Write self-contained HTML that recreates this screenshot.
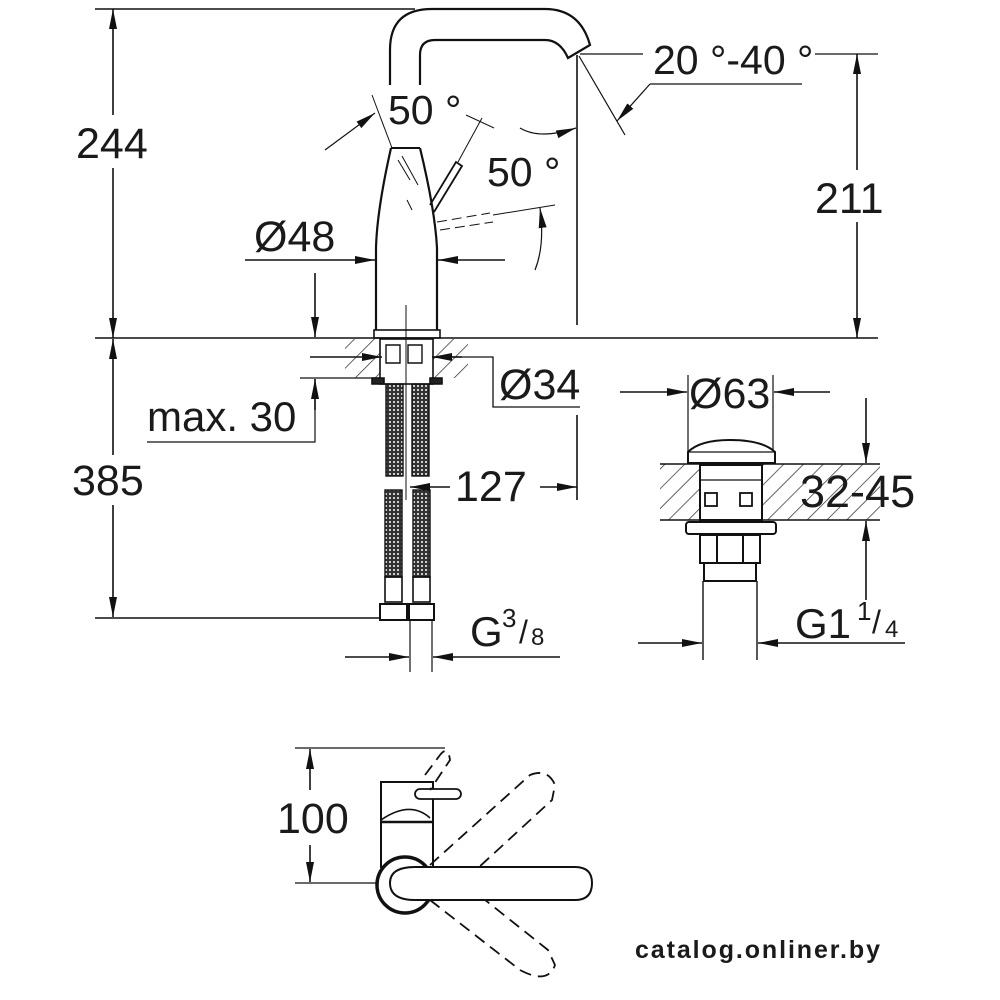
<!DOCTYPE html>
<html><head><meta charset="utf-8"><style>
html,body{margin:0;padding:0;background:#fff}
svg{display:block}
text{font-family:"Liberation Sans",sans-serif;fill:#1a1a1a}
</style></head><body>
<svg width="1000" height="1000" viewBox="0 0 1000 1000" xmlns="http://www.w3.org/2000/svg">
<defs>
<marker id="a" viewBox="0 0 20 8" refX="20" refY="4" markerWidth="20" markerHeight="8" markerUnits="userSpaceOnUse" orient="auto"><path d="M0,0 L20,4 L0,8 z" fill="#111"/></marker>
<pattern id="h" width="14" height="14" patternUnits="userSpaceOnUse" patternTransform="rotate(45)"><line x1="0" y1="0" x2="0" y2="14" stroke="#333" stroke-width="1.5"/></pattern>
<pattern id="br" width="4" height="4" patternUnits="userSpaceOnUse"><rect width="4" height="4" fill="#333"/><circle cx="2" cy="2" r="1" fill="#fff"/></pattern>
</defs>
<g stroke="#111" stroke-width="1.6" fill="none">
<line x1="95" y1="9" x2="415" y2="9"/>
<line x1="95" y1="338" x2="878" y2="338"/>
<line x1="113" y1="115" x2="113" y2="9" marker-end="url(#a)"/>
<line x1="113" y1="168" x2="113" y2="338" marker-end="url(#a)"/>
<path d="M390,85 L390,50 Q390,9 432,9 L545,9 Q580,9 590,45 L568,58 Q560,40 545,40 L435,40 Q420,40 420,55 L420,85" stroke-width="2.2"/>
<path d="M391,148 L420,148" stroke-width="2"/>
<path d="M391,148 Q377,210 376,248 L376,330" stroke-width="2.2"/>
<path d="M420,148 Q435,210 437,248 L437,330" stroke-width="2.2"/>
<rect x="374" y="330" width="66" height="8" stroke-width="1.6"/>
<line x1="406" y1="305" x2="406" y2="338" stroke-width="1"/>
<path d="M430,205 L456,162 L462,166 L434,212" stroke-width="1.8"/>
<line x1="458" y1="162" x2="482" y2="118" stroke-width="1"/>
<line x1="466" y1="115" x2="494" y2="128" stroke-width="1"/>
<path d="M437,222 L490,213 M440,230 L493,222" stroke-dasharray="10,5" stroke-width="1"/>
<line x1="493" y1="215" x2="555" y2="205" stroke-width="1"/>
<path d="M398,160 L410,180 M402,156 L418,185 M407,200 L412,210" stroke-width="1"/>
<line x1="372" y1="95" x2="392" y2="148" stroke-width="1"/>
<path d="M325,150 L375,113" marker-end="url(#a)" stroke-width="1.2"/>
<path d="M520,128 Q540,140 576,128" marker-end="url(#a)" stroke-width="1.2"/>
<path d="M535,270 Q545,245 540,208" marker-end="url(#a)" stroke-width="1.2"/>
<line x1="577" y1="55" x2="577" y2="325"/>
<line x1="580" y1="54" x2="643" y2="54" stroke-width="1.3"/>
<line x1="815" y1="54" x2="878" y2="54" stroke-width="1.3"/>
<line x1="579" y1="56" x2="625" y2="135" stroke-width="1.2"/>
<line x1="650" y1="84" x2="802" y2="84" stroke-width="1.3"/>
<path d="M650,84 L617,121" marker-end="url(#a)" stroke-width="1.2"/>
<line x1="857" y1="170" x2="857" y2="54" marker-end="url(#a)"/>
<line x1="857" y1="222" x2="857" y2="338" marker-end="url(#a)"/>
<line x1="245" y1="260" x2="375" y2="260" marker-end="url(#a)"/>
<line x1="505" y1="260" x2="438" y2="260" marker-end="url(#a)"/>
<line x1="315" y1="273" x2="315" y2="337" marker-end="url(#a)"/>
<line x1="300" y1="378" x2="380" y2="378" stroke-width="1.2"/>
<polyline points="147,442 315,442 315,379" stroke-width="1.2"/>
<line x1="315" y1="410" x2="315" y2="379" marker-end="url(#a)"/>
<rect x="345" y="339" width="38" height="39" fill="url(#h)" stroke="none"/>
<rect x="430" y="339" width="38" height="39" fill="url(#h)" stroke="none"/>
<rect x="380" y="339" width="53" height="45" fill="#fff" stroke-width="1.6"/>
<path d="M386,345 h14 v18 h-14z M408,345 h14 v18 h-14z" stroke-width="1.4"/>
<path d="M372,378 h12 v6 h-12z M430,378 h12 v6 h-12z" fill="#222"/>
<line x1="406" y1="338" x2="406" y2="500" stroke-width="1"/>
<line x1="310" y1="357" x2="382" y2="357" marker-end="url(#a)"/>
<polyline points="432,357 493,357 493,407 580,407" stroke-width="1.3"/>
<line x1="462" y1="357" x2="432" y2="357" marker-end="url(#a)"/>
<rect x="386" y="384" width="17" height="92" fill="url(#br)" stroke-width="1.4"/>
<rect x="412" y="384" width="17" height="92" fill="url(#br)" stroke-width="1.4"/>
<rect x="385" y="490" width="17" height="87" fill="url(#br)" stroke-width="1.4"/>
<rect x="413" y="490" width="17" height="87" fill="url(#br)" stroke-width="1.4"/>
<rect x="385" y="577" width="17" height="25" stroke-width="1.6"/>
<rect x="413" y="577" width="17" height="25" stroke-width="1.6"/>
<rect x="380" y="604" width="27" height="16" stroke-width="2"/>
<rect x="409" y="604" width="25" height="16" stroke-width="2"/>
<line x1="450" y1="487" x2="410" y2="487" marker-end="url(#a)"/>
<line x1="540" y1="487" x2="577" y2="487" marker-end="url(#a)"/>
<line x1="577" y1="415" x2="577" y2="500"/>
<line x1="113" y1="455" x2="113" y2="339" marker-end="url(#a)"/>
<line x1="113" y1="505" x2="113" y2="617" marker-end="url(#a)"/>
<line x1="95" y1="618" x2="380" y2="618"/>
<line x1="410" y1="620" x2="410" y2="672" stroke-width="1.2"/>
<line x1="432" y1="620" x2="432" y2="672" stroke-width="1.2"/>
<line x1="345" y1="657" x2="409" y2="657" marker-end="url(#a)"/>
<line x1="560" y1="657" x2="433" y2="657" marker-end="url(#a)"/>
<line x1="688" y1="375" x2="688" y2="455" stroke-width="1.2"/>
<line x1="773" y1="375" x2="773" y2="455" stroke-width="1.2"/>
<line x1="620" y1="392" x2="687" y2="392" marker-end="url(#a)"/>
<line x1="830" y1="392" x2="774" y2="392" marker-end="url(#a)"/>
<rect x="660" y="464" width="220" height="56" fill="url(#h)" stroke="none"/>
<line x1="660" y1="464" x2="880" y2="464"/>
<line x1="660" y1="520" x2="880" y2="520"/>
<path d="M688,463 L688,452 Q700,440 730,440 Q762,440 775,452 L775,463 Z" fill="#fff" stroke-width="2"/>
<line x1="689" y1="452" x2="774" y2="452" stroke-width="1.2"/>
<rect x="700" y="465" width="62" height="55" fill="#fff" stroke-width="2"/>
<rect x="705" y="493" width="12" height="13" stroke-width="1.8"/>
<rect x="740" y="493" width="12" height="13" stroke-width="1.8"/>
<line x1="700" y1="480" x2="762" y2="480" stroke-width="1.2"/>
<rect x="686" y="522" width="90" height="12" rx="3" fill="#fff" stroke-width="2"/>
<rect x="700" y="535" width="60" height="28" stroke-width="2"/>
<line x1="717" y1="535" x2="717" y2="563" stroke-width="2"/>
<line x1="743" y1="535" x2="743" y2="563" stroke-width="2"/>
<rect x="704" y="563" width="52" height="18" stroke-width="2"/>
<line x1="703" y1="581" x2="703" y2="660" stroke-width="1.4"/>
<line x1="757" y1="581" x2="757" y2="660" stroke-width="1.4"/>
<line x1="866" y1="398" x2="866" y2="463" marker-end="url(#a)"/>
<line x1="866" y1="600" x2="866" y2="521" marker-end="url(#a)"/>
<line x1="638" y1="643" x2="702" y2="643" marker-end="url(#a)"/>
<line x1="905" y1="643" x2="758" y2="643" marker-end="url(#a)"/>
<line x1="295" y1="748" x2="445" y2="748" stroke-width="1.3"/>
<line x1="295" y1="883" x2="378" y2="883" stroke-width="1.3"/>
<line x1="310" y1="790" x2="310" y2="749" marker-end="url(#a)"/>
<line x1="310" y1="845" x2="310" y2="882" marker-end="url(#a)"/>
<rect x="381" y="782" width="52" height="85" fill="#fff" stroke-width="2"/>
<path d="M381,820 Q410,800 430,818" stroke-width="1.6"/>
<line x1="381" y1="822" x2="433" y2="822" stroke-width="2.5"/>
<rect x="415" y="789" width="46" height="10" rx="5" fill="#fff" stroke-width="1.8"/>
<g stroke-dasharray="12,7" stroke-width="1.8">
<path d="M425,775 L440,755 Q448,745 450,760 L430,790"/>
<path d="M430,865 L530,775 Q548,768 555,785 L552,800 L465,880"/>
<path d="M430,900 L520,970 Q548,985 555,965 L548,950 L460,880"/>
</g>
<circle cx="405" cy="885" r="28" fill="#fff" stroke-width="3.5"/>
<path d="M415,867 L575,867 Q592,867 592,883 Q592,900 575,900 L415,900 Q390,900 390,883 Q390,867 415,867 Z" fill="#fff" stroke-width="2"/>
</g>
<text x="76" y="158" font-size="43">244</text>
<text x="815" y="213" font-size="43">211</text>
<text x="72" y="495" font-size="43">385</text>
<text x="388" y="124" font-size="41">50 °</text>
<text x="487" y="186" font-size="41">50 °</text>
<text x="653" y="74" font-size="41">20 °-40 °</text>
<text x="254" y="251" font-size="43">Ø48</text>
<text x="499" y="399" font-size="43">Ø34</text>
<text x="147" y="431" font-size="42">max. 30</text>
<text x="455" y="501" font-size="43">127</text>
<text x="470" y="646" font-size="42">G</text>
<text x="502" y="627" font-size="26">3</text>
<text x="519" y="643" font-size="32">/</text>
<text x="531" y="645" font-size="24">8</text>
<text x="689" y="408" font-size="43">Ø63</text>
<text x="800" y="507" font-size="45">32-45</text>
<text x="795" y="638" font-size="42">G1</text>
<text x="857" y="620" font-size="26">1</text>
<text x="872" y="633" font-size="32">/</text>
<text x="885" y="637" font-size="24">4</text>
<text x="277" y="833" font-size="43">100</text>
<text x="635" y="958" font-size="25" font-weight="bold" fill="#222" textLength="245">catalog.onliner.by</text>
</svg>
</body></html>
